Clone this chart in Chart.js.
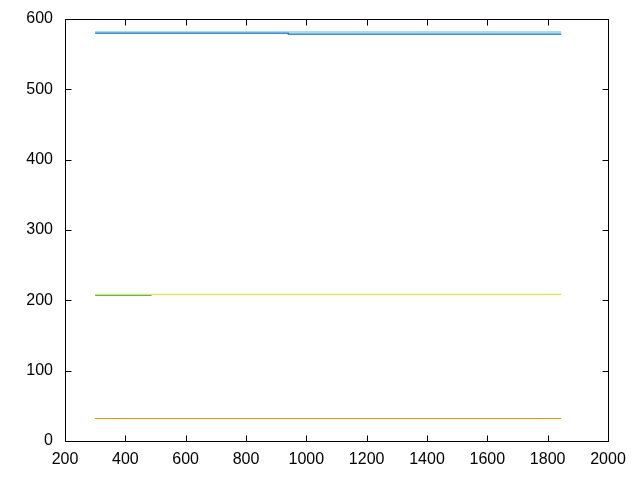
<!DOCTYPE html>
<html>
<head>
<meta charset="utf-8">
<script src="https://cdn.jsdelivr.net/npm/chart.js@4/dist/chart.umd.min.js"></script>
<style>
html,body{margin:0;padding:0;background:#fff;}
#wrap{width:640px;height:480px;}
</style>
</head>
<body>
<div id="wrap"><canvas id="c" width="640" height="480"></canvas></div>
<script>
// Tick labels
const xTickValues = [200, 400, 600, 800, 1000, 1200, 1400, 1600, 1800, 2000];
const yTickValues = [0, 100, 200, 300, 400, 500, 600];

// Series (x, y)
const darkBlueX = [300, 940, 940, 1845];
const darkBlueY = [580, 580, 578.5, 578.5];
const lightBlueX = [300, 1845];
const lightBlueY = [581.5, 581.5];
const greenX = [300, 487];
const greenY = [207.5, 207.5];
const yellowX = [300, 1845];
const yellowY = [208.5, 208.5];
const orangeX = [300, 1845];
const orangeY = [32, 32];

function pts(xs, ys) { return xs.map((x, i) => ({x: x, y: ys[i]})); }

const FONT = {family: "'Liberation Sans', Arial, sans-serif", size: 16};

const frameTicks = {
  id: 'frameTicks',
  afterDraw(chart) {
    const ctx = chart.ctx, a = chart.chartArea;
    const xs = chart.scales.x, ys = chart.scales.y;
    const L = 6;
    const l = Math.round(a.left) + 0.5, r = Math.round(a.right) + 0.5;
    const t = Math.round(a.top) + 0.5, b = Math.round(a.bottom) + 0.5;
    ctx.save();
    ctx.strokeStyle = '#000';
    ctx.lineWidth = 1;
    ctx.beginPath();
    xTickValues.forEach(v => {
      const px = Math.round(xs.getPixelForValue(v)) + 0.5;
      ctx.moveTo(px, b); ctx.lineTo(px, b - L);
      ctx.moveTo(px, t); ctx.lineTo(px, t + L);
    });
    yTickValues.forEach(v => {
      const py = Math.round(ys.getPixelForValue(v)) + 0.5;
      ctx.moveTo(l, py); ctx.lineTo(l + L, py);
      ctx.moveTo(r, py); ctx.lineTo(r - L, py);
    });
    ctx.moveTo(l, t); ctx.lineTo(r, t); ctx.lineTo(r, b); ctx.lineTo(l, b); ctx.closePath();
    ctx.stroke();
    ctx.restore();
  }
};

const mk = (xs, ys, color) => ({
  data: pts(xs, ys), borderColor: color, backgroundColor: color,
  borderWidth: 1.2, pointRadius: 0, showLine: true, fill: false, tension: 0
});

new Chart(document.getElementById('c'), {
  type: 'scatter',
  data: {
    datasets: [
      mk(orangeX, orangeY, '#e69f00'),
      mk(yellowX, yellowY, '#f0e442'),
      mk(greenX, greenY, '#009e73'),
      mk(lightBlueX, lightBlueY, '#56b4e9'),
      mk(darkBlueX, darkBlueY, '#0072b2')
    ]
  },
  options: {
    responsive: false,
    animation: false,
    layout: {padding: {top: 19, right: 32, left: 0, bottom: 0}},
    plugins: {legend: {display: false}, tooltip: {enabled: false}},
    scales: {
      x: {
        type: 'linear', min: 200, max: 2000,
        afterBuildTicks: s => { s.ticks = xTickValues.map(v => ({value: v})); },
        afterFit: s => { s.height = 39; s.paddingLeft = 0; s.paddingRight = 0; },
        grid: {display: true, drawOnChartArea: false, drawTicks: false, color: 'rgba(0,0,0,0)'},
        border: {display: false},
        ticks: {color: '#000', font: FONT, padding: 9, maxRotation: 0, autoSkip: false,
                callback: v => String(v)}
      },
      y: {
        type: 'linear', min: 0, max: 600,
        afterBuildTicks: s => { s.ticks = yTickValues.map(v => ({value: v})); },
        afterFit: s => { s.width = 65; s.paddingTop = 0; s.paddingBottom = 0; },
        grid: {display: true, drawOnChartArea: false, drawTicks: false, color: 'rgba(0,0,0,0)'},
        border: {display: false},
        ticks: {color: '#000', font: FONT, padding: 12, autoSkip: false,
                callback: v => String(v)}
      }
    }
  },
  plugins: [frameTicks]
});
</script>
</body>
</html>
